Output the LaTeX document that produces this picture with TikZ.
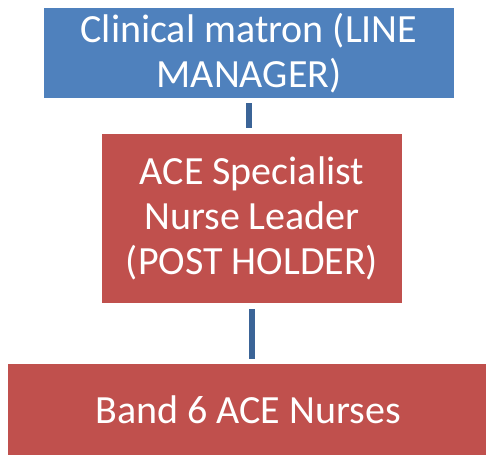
\documentclass[tikz,border=0pt]{standalone}
\usepackage{fontspec}
\setmainfont{Carlito}
\definecolor{boxblue}{HTML}{4F81BD}
\definecolor{boxred}{HTML}{C0504D}
\definecolor{linkblue}{HTML}{3B6497}
\begin{document}
\begin{tikzpicture}[x=1pt, y=1pt,
  role/.style={fill=#1, draw=none, text=white, inner sep=0pt, align=center,
    font=\fontsize{40}{45}\selectfont},
  link/.style={draw=linkblue, line width=6pt}]
\useasboundingbox (0,0) rectangle (486,454);
\node[role=boxblue, minimum width=410, minimum height=90] (matron) at (249,401) {Clinical matron (LINE\\MANAGER)};
\node[role=boxred, minimum width=300, minimum height=169] (leader) at (252,235.5) {ACE Specialist\\Nurse Leader\\(POST HOLDER)};
\node[role=boxred, minimum width=480, minimum height=91] (nurses) at (248,44.5) {Band 6 ACE Nurses};
\path[link, shorten <=5pt, shorten >=6pt] (matron.south) -- (matron.south |- leader.north);
\path[link, shorten <=6pt, shorten >=5pt] (leader.south) -- (leader.south |- nurses.north);
\end{tikzpicture}
\end{document}
